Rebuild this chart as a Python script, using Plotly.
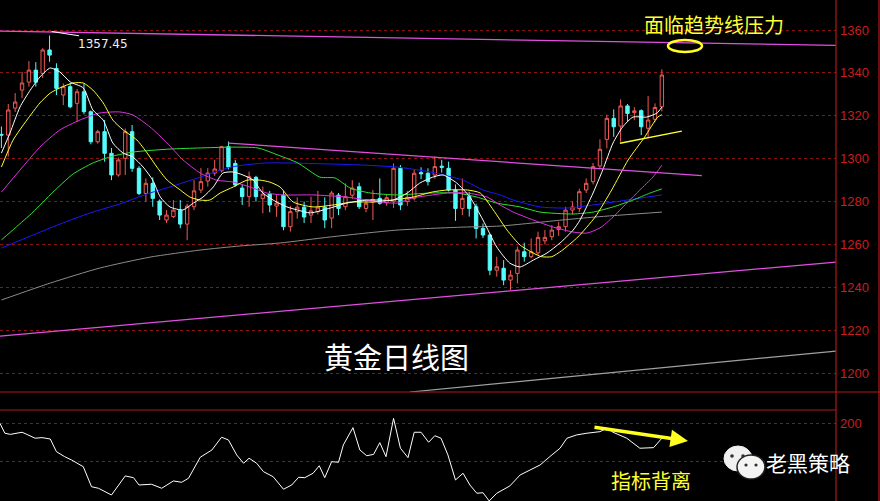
import plotly.graph_objects as go

W, H = 880, 501

# ---------------- data ----------------
idx = list(range(97))
opens = [1311.3, 1311, 1323.6, 1332, 1335.7, 1341.3, 1339.8, 1350.7, 1342.1, 1329.7,
         1333.6, 1325.8, 1331.2, 1321.9, 1307.9, 1312.6, 1302.5, 1292.4, 1300.2, 1312.6,
         1295.5, 1283.8, 1288.5, 1280.2, 1271.4, 1273, 1276, 1269.5, 1277.6, 1285.4,
         1289.6, 1293.3, 1294.4, 1305.6, 1297.8, 1286.3, 1282.3, 1291.3, 1281.5, 1283.5,
         1277.9, 1283, 1268.3, 1275.3, 1277.4, 1273.7, 1275.3, 1277.4, 1272.3, 1283,
         1277.6, 1283, 1286.9, 1276.8, 1279.7, 1281.5, 1279.5, 1279.9, 1295.5, 1280,
         1281.5, 1293.5, 1293.2, 1292.4, 1296.5, 1295.5, 1285.4, 1276.8, 1282.3, 1277.6,
         1267.5, 1264.4, 1248, 1248.9, 1243.4, 1246.5, 1256.6, 1254.3, 1256.1, 1261.7,
         1263.6, 1267, 1268.3, 1276, 1276.8, 1285.4, 1289.3, 1296.6, 1309, 1318.8,
         1315.2, 1324.6, 1321.5, 1322.4, 1314.2, 1318.4, 1324.2]
highs = [1315, 1325.5, 1330.6, 1340.5, 1345.5, 1345, 1351.5, 1357.45, 1344.5, 1335.1,
         1335.3, 1332.5, 1335.1, 1322.5, 1313.5, 1318, 1305, 1300.5, 1314.1, 1315.7,
         1296.5, 1290.8, 1291.3, 1281, 1276, 1280.7, 1280.7, 1279, 1290, 1295.6,
         1295.6, 1299.4, 1306, 1308, 1299.4, 1288, 1294, 1292, 1287, 1285,
         1283, 1285, 1278, 1282, 1280, 1282.3, 1285, 1282, 1285, 1284,
         1288.5, 1290, 1288.8, 1281, 1285.4, 1290.8, 1283.5, 1297.8, 1297, 1285,
         1295, 1296, 1295.5, 1301, 1299.5, 1298.6, 1288, 1290.8, 1284.5, 1279,
         1269.8, 1265, 1254.3, 1252.7, 1248, 1259, 1260.8, 1262.8, 1266, 1266.7,
         1269, 1270.5, 1277.6, 1280, 1286, 1290.8, 1298, 1309, 1320.5, 1323,
         1327.7, 1325.5, 1324, 1323, 1329.2, 1325.8, 1341.7]
lows = [1305, 1301, 1321.8, 1328.3, 1333.6, 1333.6, 1337.6, 1345.2, 1329.7, 1325,
        1323.5, 1317.2, 1320.7, 1306.7, 1307, 1298.6, 1290, 1291.6, 1292.4, 1293.9,
        1283, 1279.9, 1277.6, 1271.4, 1270, 1272.3, 1267.6, 1262, 1276, 1284,
        1287, 1292, 1293.5, 1295, 1286.9, 1278.4, 1277.6, 1280, 1274.5, 1275,
        1272.9, 1266.6, 1266, 1272, 1270, 1270, 1274, 1267.6, 1267.6, 1273.7,
        1276, 1281.3, 1276.5, 1275, 1271.4, 1278.5, 1278, 1277, 1276, 1278,
        1280.5, 1290.5, 1287.5, 1290.6, 1293.5, 1284.7, 1271, 1273.7, 1273, 1262.8,
        1263, 1245.7, 1245, 1241, 1238.7, 1241.8, 1252, 1253.5, 1255, 1260,
        1262, 1264, 1266, 1274, 1275, 1284, 1288, 1295, 1304.8, 1310.2,
        1307.9, 1317.2, 1318, 1311, 1310, 1317, 1322]
closes = [1311, 1322.7, 1326.4, 1335.3, 1341.3, 1335.7, 1350.7, 1348.3, 1332.8, 1333.6,
          1324.2, 1331.2, 1321.9, 1307.9, 1312.6, 1302.5, 1292.4, 1299.4, 1312.6, 1295.5,
          1283.8, 1288.5, 1281.5, 1273.7, 1273.7, 1276, 1269.5, 1277.9, 1285, 1289.3,
          1293.3, 1295.2, 1305.6, 1296.1, 1287.7, 1282.3, 1291.6, 1282.3, 1283.5, 1278.4,
          1279.3, 1268.3, 1275.3, 1277.4, 1272.8, 1275.7, 1277.4, 1271.4, 1284, 1276.8,
          1282.3, 1286.3, 1277.6, 1279.2, 1281, 1279.2, 1281.8, 1295.5, 1278.4, 1282,
          1293.2, 1293, 1289.3, 1296.3, 1296, 1285.4, 1276.8, 1281.5, 1276.8, 1267.5,
          1264.4, 1248, 1249.6, 1243.4, 1245.7, 1257.4, 1254.3, 1256.6, 1263.3, 1263.3,
          1266.7, 1268.3, 1276, 1277.5, 1284.6, 1288.5, 1296.3, 1304.4, 1318.8, 1314.9,
          1324.6, 1321.1, 1322.3, 1314.9, 1318, 1323.9, 1339]

ma5_x = [0, 1.25, 2.7, 4.2, 5.6, 7.1, 8.5, 10.0, 11.9, 13.3, 14.8, 16.2, 17.7, 19.1, 20.6,
         22.0, 23.1, 24.5, 26.4, 27.9, 29.3, 30.8, 32.2, 33.7, 35.1, 36.6, 38.0, 39.5, 41.5,
         43.0, 44.9, 47.8, 50.2, 53.1, 55.0, 56.9, 59.0, 60.8, 62.7, 64.2, 66.2, 68.1, 70.0,
         72.0, 73.9, 75.4, 77.3, 79.3, 81.2, 83.1, 84.1, 86.0, 87.4, 88.9, 90.3, 91.8, 93.8,
         95.3, 96.0]
ma5_y = [1302.6, 1312.0, 1324.1, 1332.0, 1338.1, 1342.3, 1340.4, 1335.8, 1333.0, 1322.7,
         1318.0, 1307.3, 1302.6, 1300.8, 1296.1, 1290.0, 1282.1, 1277.5, 1276.1, 1279.3,
         1282.1, 1286.8, 1293.3, 1293.8, 1292.4, 1290.0, 1284.0, 1280.7, 1277.5, 1276.1,
         1274.7, 1277.0, 1279.3, 1280.7, 1280.7, 1280.7, 1284.0, 1288.6, 1291.4, 1292.4,
         1288.6, 1282.1, 1271.4, 1258.8, 1251.3, 1249.5, 1252.7, 1256.0, 1260.7, 1266.7,
         1271.4, 1284.0, 1294.7, 1307.3, 1314.8, 1319.4, 1319.4, 1321.3, 1324.1]

ma10_x = [0, 1.7, 3.7, 5.6, 7.1, 8.5, 10.4, 11.9, 13.3, 14.8, 16.2, 17.7, 19.7, 21.2, 22.6,
          24.1, 26.0, 27.4, 28.9, 30.3, 31.8, 33.7, 35.7, 37.6, 39.0, 40.5, 42.4, 45.3, 48.2,
          51.1, 54.0, 56.9, 59.8, 62.7, 64.8, 67.7, 69.6, 71.5, 73.5, 75.4, 77.3, 78.5, 80.0,
          81.4, 83.8, 86.3, 88.7, 91.1, 93.5, 95.4, 96.0]
ma10_y = [1296.1, 1308.7, 1318.0, 1326.0, 1330.6, 1333.0, 1335.3, 1335.3, 1332.0, 1326.0,
          1318.0, 1313.4, 1308.7, 1302.6, 1296.1, 1290.0, 1285.4, 1282.1, 1280.7, 1280.7,
          1284.0, 1286.8, 1290.0, 1290.0, 1289.1, 1286.8, 1279.8, 1277.5, 1278.4, 1279.8,
          1279.8, 1280.7, 1282.1, 1284.5, 1285.4, 1285.4, 1284.0, 1276.1, 1266.7, 1259.7,
          1256.0, 1254.3, 1254.3, 1257.0, 1263.5, 1272.8, 1285.4, 1299.4, 1310.1, 1319.4,
          1320.5]

ma20_x = [0, 2.7, 5.6, 8.5, 11.4, 14.3, 17.2, 19.1, 21.6, 24.1, 26.4, 28.9, 31.3, 33.7,
          36.1, 38.6, 40.9, 45.3, 50.2, 55.0, 57.5, 59.8, 62.7, 64.8, 67.7, 70.6, 72.5,
          74.4, 77.3, 80.2, 83.1, 85.1, 87.0, 88.9, 90.9, 92.8, 94.7, 96.0]
ma20_y = [1284.4, 1294.7, 1305.4, 1313.4, 1318.0, 1321.3, 1321.8, 1320.4, 1314.8, 1307.3,
          1299.4, 1293.3, 1290.0, 1289.1, 1286.8, 1284.0, 1283.1, 1283.1, 1282.1, 1279.8,
          1279.3, 1281.7, 1283.1, 1284.0, 1284.0, 1282.1, 1278.4, 1275.1, 1271.4, 1268.1,
          1265.8, 1265.3, 1267.7, 1272.8, 1279.3, 1285.4, 1291.4, 1297.0]

ma30_x = [0, 2.0, 4.6, 7.5, 10.4, 13.3, 16.2, 19.1, 24.5, 28.9, 33.2, 37.3, 40.2, 43.1,
          46.3, 48.5, 50.7, 53.6, 57.5, 62.3, 66.2, 69.1, 72.0, 75.4, 78.3, 83.1, 86.0,
          88.9, 91.8, 94.3, 96.0]
ma30_y = [1262.1, 1267.7, 1275.1, 1284.4, 1292.8, 1298.0, 1301.2, 1303.1, 1304.5, 1305.0,
          1305.4, 1305.0, 1301.7, 1298.0, 1291.4, 1291.0, 1286.3, 1284.0, 1283.1, 1284.0,
          1284.0, 1282.1, 1279.3, 1277.5, 1275.1, 1274.2, 1275.1, 1277.5, 1280.7, 1284.0,
          1285.9]

ma60_x = [0, 4.2, 8.5, 12.9, 17.2, 21.6, 24.5, 28.9, 33.4, 38.3, 48.1, 52.6, 57.5, 62.3,
          67.1, 70.0, 72.5, 74.4, 78.3, 82.2, 86.0, 90.9, 96.0]
ma60_y = [1258.3, 1263.9, 1269.5, 1274.7, 1278.9, 1284.0, 1286.8, 1291.4, 1296.1, 1298.0,
          1297.5, 1297.0, 1296.1, 1293.8, 1290.0, 1285.4, 1283.1, 1280.7, 1277.5, 1277.0,
          1278.4, 1280.7, 1283.1]

ma120_x = [0, 7.1, 14.3, 21.6, 28.9, 34.7, 40.5, 47.8, 57.5, 67.1, 72.5, 81.5, 86.3, 96.0]
ma120_y = [1234.1, 1242.0, 1249.0, 1254.1, 1257.4, 1259.3, 1260.7, 1263.5, 1266.7, 1268.1,
           1268.6, 1271.4, 1272.8, 1275.1]

trend_top_x, trend_top_y = [-0.2, 121.3], [1359.5, 1352.8]
trend_mid_x, trend_mid_y = [33.0, 101.8], [1307.3, 1292.1]
trend_low_x, trend_low_y = [-0.2, 121.3], [1217.3, 1251.8]
trend_gray_x, trend_gray_y = [59.4, 121.3], [1191.2, 1210.3]
trend_yel_x, trend_yel_y = [89.9, 98.9], [1307.2, 1312.9]
peak_x, peak_y = [7.3, 11.3], [1359.3, 1357.3]

osc_x = [-0.2, 0.5, 1.3, 2.2, 3.0, 3.7, 4.9, 5.9, 7.1, 8.0, 9.2, 10.2, 11.9, 13.1, 14.1, 16.0,
         18.0, 19.2, 20.0, 21.8, 23.3, 25.0, 26.2, 27.2, 28.9, 30.6, 32.0, 33.0, 34.2, 35.2,
         36.0, 37.1, 38.1, 39.5, 41.0, 42.2, 43.2, 44.1, 45.3, 46.2, 47.0, 48.0, 49.0, 49.7,
         50.6, 51.1, 52.1, 53.1, 54.1, 55.0, 55.9, 57.0, 58.0, 59.1, 60.0, 61.0, 62.1, 63.0,
         63.9, 64.9, 66.0, 67.1, 68.1, 69.1, 70.0, 70.9, 72.0, 73.9, 75.4, 76.8, 78.3, 79.7,
         81.2, 82.2, 83.6, 85.1, 87.0, 88.0, 88.9, 90.9, 92.8, 94.8, 96.0]
osc_v = [199, 148, 142, 148, 153, 142, 122, 125, 118, 52, 26, 9, -26, -130, -138, -173,
         -74, -83, -121, -117, -138, -100, -107, -86, 23, 61, 127, 113, 35, -8,
         18, -8, -52, -78, -143, -121, -81, -83, -60, -21, -83, 0, -3, 87,
         148, 177, 61, 31, 38, 99, 26, 225, 70, 21, 153, 153, 101, 135,
         122, 35, -95, -60, -121, -164, -161, -204, -164, -126, -69, -43, -17, 26,
         70, 122, 139, 148, 156, 174, 153, 122, 70, 73, 122]

price_ticks = [1200, 1220, 1240, 1260, 1280, 1300, 1320, 1340, 1360]
osc_ticks = [-200, 0, 200]
osc_tick_text = ["-200", "", "200"]

# ---------------- figure ----------------
RED_UP = "#f05a55"
CYAN = "#54fcfc"
PINK = "#e050e0"

fig = go.Figure()
fig.add_trace(go.Candlestick(
    x=idx, open=opens, high=highs, low=lows, close=closes,
    increasing=dict(line=dict(color=RED_UP, width=1), fillcolor="#000000"),
    decreasing=dict(line=dict(color=CYAN, width=1), fillcolor=CYAN),
    whiskerwidth=0, hoverinfo="skip", xaxis="x", yaxis="y"))

def line(x, y, color, width=1, yaxis="y", shape="spline"):
    fig.add_trace(go.Scatter(x=x, y=y, mode="lines", xaxis="x", yaxis=yaxis,
                             line=dict(color=color, width=width, shape=shape,
                                       smoothing=0.6 if shape == "spline" else None),
                             hoverinfo="skip"))

line(ma120_x, ma120_y, "#8c8c8c")
line(ma60_x, ma60_y, "#1a1aff")
line(ma30_x, ma30_y, "#30e030")
line(ma20_x, ma20_y, "#e030e0")
line(ma10_x, ma10_y, "#ffff30")
line(ma5_x, ma5_y, "#ffffff")

line(trend_top_x, trend_top_y, PINK, 1.3, shape="linear")
line(trend_mid_x, trend_mid_y, PINK, 1.3, shape="linear")
line(trend_low_x, trend_low_y, PINK, 1.3, shape="linear")
line(trend_gray_x, trend_gray_y, "#a0a0a0", 1.2, shape="linear")
line(trend_yel_x, trend_yel_y, "#ffff30", 1.3, shape="linear")
line(peak_x, peak_y, "#ffffff", 1, shape="linear")

line(osc_x, osc_v, "#ffffff", 1, yaxis="y2", shape="linear")

def px(x):
    return x / W

def py(y):
    return 1 - y / H

XR = 836 / W
TICKFONT = dict(color="#c81e1e", size=13, family="Liberation Sans, Arial, sans-serif")

fig.update_layout(
    width=W, height=H, margin=dict(l=0, r=0, t=0, b=0),
    paper_bgcolor="#000000", plot_bgcolor="#000000", showlegend=False,
    xaxis=dict(domain=[0, XR], range=[-0.2035, 121.31], visible=False,
               rangeslider=dict(visible=False), fixedrange=True),
    yaxis=dict(domain=[py(392), 1], range=[1191.2, 1374], side="right",
               tickvals=price_ticks, tickfont=TICKFONT, ticks="",
               showgrid=True, gridcolor="#8a1515", griddash="dot", gridwidth=1,
               zeroline=False, showline=False, ticklabelstandoff=3),
    yaxis2=dict(domain=[0, py(410)], range=[-204.2, 268.6], side="right", anchor="x",
                tickvals=osc_ticks, ticktext=osc_tick_text, tickfont=TICKFONT, ticks="",
                showgrid=True, gridcolor="#8a1515", griddash="dot", gridwidth=1,
                zeroline=False, showline=False, ticklabelstandoff=3),
)

shapes = [
    dict(type="line", xref="paper", yref="paper", x0=XR, x1=XR, y0=0, y1=1,
         line=dict(color="#b01818", width=1.2)),
    dict(type="line", xref="paper", yref="paper", x0=px(879), x1=px(879), y0=0, y1=1,
         line=dict(color="#b01818", width=1.2)),
    dict(type="line", xref="paper", yref="paper", x0=0, x1=1, y0=py(392), y1=py(392),
         line=dict(color="#b01818", width=1.2)),
    dict(type="line", xref="paper", yref="paper", x0=0, x1=XR, y0=py(410), y1=py(410),
         line=dict(color="#b01818", width=1.2)),
    # yellow ellipse
    dict(type="circle", xref="paper", yref="paper", x0=px(668), x1=px(702),
         y0=py(52), y1=py(40), line=dict(color="#ffff20", width=2.5)),
    # wechat icon bubbles
    dict(type="circle", xref="paper", yref="paper", x0=px(724), x1=px(752),
         y0=py(471), y1=py(446), fillcolor="#f0f0f0", line=dict(color="#f0f0f0", width=1)),
    dict(type="circle", xref="paper", yref="paper", x0=px(737), x1=px(765),
         y0=py(479), y1=py(455), fillcolor="#f4f4f4", line=dict(color="#202020", width=1.5)),
]
for cx, cy, r in [(732, 456, 1.8), (743, 456, 1.8), (746, 465, 1.6), (756, 465, 1.6)]:
    shapes.append(dict(type="circle", xref="paper", yref="paper",
                       x0=px(cx - r), x1=px(cx + r), y0=py(cy + r), y1=py(cy - r),
                       fillcolor="#303030", line=dict(width=0)))
fig.update_layout(shapes=shapes)

CJK = "Noto Sans CJK SC, sans-serif"
def label(text, x, y, color, size, family=CJK):
    return dict(text=text, x=px(x), y=py(y), xref="paper", yref="paper", showarrow=False,
                xanchor="center", yanchor="middle",
                font=dict(color=color, size=size, family=family))

annotations = [
    label("1357.45", 103, 44, "#f0f0f0", 12, "DejaVu Sans, sans-serif"),
    label("面临趋势线压力", 714, 24, "#ffff30", 20),
    label("黄金日线图", 396, 356, "#ffffff", 29),
    label("指标背离", 651, 480, "#ffff30", 20),
    label("老黑策略", 808, 462, "#ffffff", 21),
    dict(text="", x=px(688), y=py(441), xref="paper", yref="paper", showarrow=True,
         ax=-95, ay=-14, axref="pixel", ayref="pixel", arrowcolor="#ffff20",
         arrowwidth=3.5, arrowhead=2, arrowsize=1),
]
fig.update_layout(annotations=annotations)

fig.write_html("out.html", config={"displayModeBar": False},
               post_script="document.body.style.margin='0';document.body.style.padding='0';")
